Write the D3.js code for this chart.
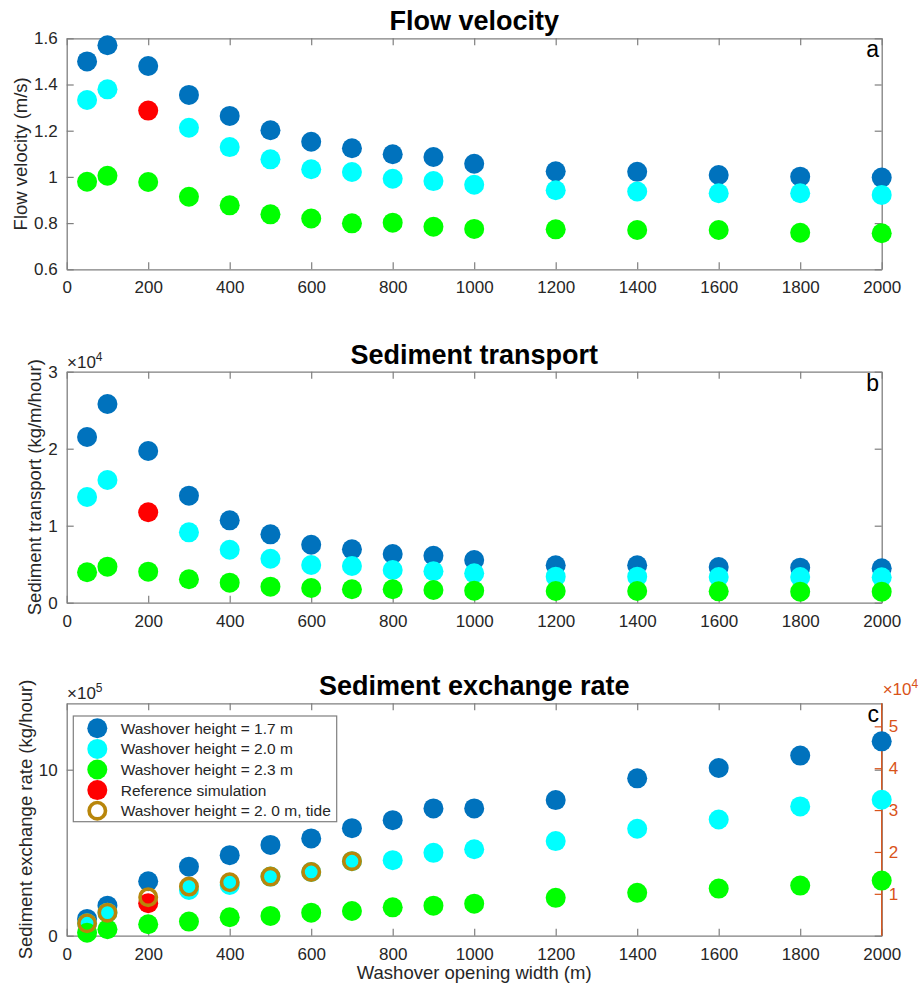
<!DOCTYPE html>
<html>
<head>
<meta charset="utf-8">
<script src="https://cdn.jsdelivr.net/npm/d3@7/dist/d3.min.js"></script>
<style>
  body { margin: 0; background: #fff; }
  svg { display: block; font-family: "Liberation Sans", Arial, Helvetica, sans-serif; }
</style>
</head>
<body>
<svg id="chart" width="923" height="992"></svg>
<script>
// Washover opening widths (m)
const widths = [50, 100, 200, 300, 400, 500, 600, 700, 800, 900, 1000, 1200, 1400, 1600, 1800, 2000];
const xTicks = [0, 200, 400, 600, 800, 1000, 1200, 1400, 1600, 1800, 2000];

// (a) Flow velocity (m/s)
const velH17 = [1.500, 1.570, 1.480, 1.355, 1.264, 1.202, 1.152, 1.124, 1.098, 1.086, 1.057, 1.024, 1.022, 1.008, 1.001, 0.997];
const velH20 = [1.333, 1.379, null, 1.213, 1.129, 1.076, 1.033, 1.021, 0.992, 0.982, 0.966, 0.942, 0.937, 0.929, 0.929, 0.922];
const velH23 = [0.979, 1.005, 0.978, 0.914, 0.877, 0.838, 0.820, 0.799, 0.802, 0.784, 0.775, 0.773, 0.770, 0.770, 0.758, 0.756];
const velRef = 1.287;
const velTicks = [0.6, 0.8, 1.0, 1.2, 1.4, 1.6];

// (b) Sediment transport (kg/m/hour)
const sedH17 = [21520, 25810, 19700, 13900, 10700, 8880, 7530, 6930, 6320, 6100, 5540, 4860, 4860, 4640, 4550, 4470];
const sedH20 = [13730, 15940, null, 9140, 6880, 5710, 4900, 4770, 4250, 4080, 3810, 3380, 3380, 3340, 3340, 3300];
const sedH23 = [3950, 4680, 4030, 3040, 2600, 2080, 1910, 1740, 1740, 1650, 1560, 1520, 1520, 1480, 1430, 1430];
const sedRef = 11740;
const sedTicks = [0, 10000, 20000, 30000];

// (c) Sediment exchange rate (kg/hour)
const excH17 = [101000, 181000, 328000, 416000, 485000, 547000, 586000, 648000, 696000, 767000, 767000, 817000, 948000, 1010000, 1085000, 1171000];
const excH20 = [75000, 139000, null, 276000, 306000, 356000, 384000, 449000, 455000, 499000, 521000, 570000, 644000, 700000, 779000, 819000];
const excH23 = [18000, 39000, 69000, 85000, 111000, 119000, 139000, 149000, 171000, 181000, 193000, 228000, 258000, 284000, 302000, 332000];
const excRef = 196000;
const tideWidths = [50, 100, 200, 300, 400, 500, 600, 700];
const excTide = [75000, 139000, 232000, 296000, 322000, 356000, 384000, 449000];
const excTicks = [0, 1000000];
const excRightTicks = [10000, 20000, 30000, 40000, 50000];

const legendLabels = [
  "Washover height = 1.7 m",
  "Washover height = 2.0 m",
  "Washover height = 2.3 m",
  "Reference simulation",
  "Washover height = 2. 0 m, tide"
];

const COL = { h17: "#0072BD", h20: "#00FFFF", h23: "#00FF00", ref: "#FF0000", tide: "#B8860B", right: "#D95319" };
const AXIS = "#7f7f7f";
const TXT = "#262626";
const R = 10;

const svg = d3.select("#chart");
svg.append("rect").attr("width", 923).attr("height", 992).attr("fill", "#fff");

const X0 = 66.7, X1 = 881.7;
const x = d3.scaleLinear().domain([0, 2000]).range([X0, X1]);

function styleAxis(g, color) {
  g.select(".domain").attr("stroke", color).attr("stroke-width", 1.3);
  g.selectAll(".tick line").attr("stroke", color).attr("stroke-width", 1.2);
  g.selectAll(".tick text").attr("fill", color === AXIS ? TXT : color).attr("font-size", 17);
}

function panel(opts) {
  const { top, bottom, y, yTicks, yFmt, title, letter, ylabel, ylabelX, exp } = opts;
  const g = svg.append("g");

  // box axes: bottom/left labelled, top/right mirrored ticks only
  const gb = g.append("g").attr("transform", `translate(0,${bottom})`)
    .call(d3.axisBottom(x).tickValues(xTicks).tickSizeInner(-7).tickSizeOuter(0).tickPadding(12).tickFormat(d3.format("d")));
  styleAxis(gb, AXIS);
  const gt = g.append("g").attr("transform", `translate(0,${top})`)
    .call(d3.axisTop(x).tickValues(xTicks).tickSizeInner(-7).tickSizeOuter(0).tickFormat(""));
  styleAxis(gt, AXIS);
  const gl = g.append("g").attr("transform", `translate(${X0},0)`)
    .call(d3.axisLeft(y).tickValues(yTicks).tickSizeInner(-7).tickSizeOuter(0).tickPadding(9).tickFormat(yFmt));
  styleAxis(gl, AXIS);
  if (!opts.noRightMirror) {
    const gr = g.append("g").attr("transform", `translate(${X1},0)`)
      .call(d3.axisRight(y).tickValues(yTicks).tickSizeInner(-7).tickSizeOuter(0).tickFormat(""));
    styleAxis(gr, AXIS);
  }

  g.append("text").attr("x", (X0 + X1) / 2).attr("y", top - 8)
    .attr("text-anchor", "middle").attr("font-size", 27).attr("font-weight", "bold").attr("fill", "#000")
    .text(title);
  g.append("text").attr("x", 879).attr("y", top + 19)
    .attr("text-anchor", "end").attr("font-size", 23).attr("fill", "#000").text(letter);
  g.append("text")
    .attr("transform", `translate(${ylabelX},${(top + bottom) / 2}) rotate(-90)`)
    .attr("text-anchor", "middle").attr("font-size", 18.5).attr("fill", TXT).text(ylabel);

  if (exp) {
    const t = g.append("text").attr("x", 67).attr("y", top - 4).attr("font-size", 17).attr("fill", TXT);
    t.append("tspan").text("\u00D710");
    t.append("tspan").attr("dy", -7).attr("font-size", 12).text(exp);
  }
  return g;
}

function dots(g, y, xs, ys, color) {
  g.append("g").selectAll("circle")
    .data(xs.map((w, i) => [w, ys[i]]).filter(d => d[1] !== null))
    .join("circle")
    .attr("cx", d => x(d[0])).attr("cy", d => y(d[1])).attr("r", R)
    .attr("fill", color);
}

function rings(g, y, xs, ys, color) {
  g.append("g").selectAll("circle")
    .data(xs.map((w, i) => [w, ys[i]]))
    .join("circle")
    .attr("cx", d => x(d[0])).attr("cy", d => y(d[1])).attr("r", R - 1.8)
    .attr("fill", "none").attr("stroke", color).attr("stroke-width", 3.6);
}

// ---- (a) Flow velocity
const yA = d3.scaleLinear().domain([0.6, 1.6]).range([269.3, 38.3]);
const gA = panel({
  top: 38.3, bottom: 269.3, y: yA, yTicks: velTicks,
  yFmt: d => String(+d.toFixed(1)),
  title: "Flow velocity", letter: "a", ylabel: "Flow velocity (m/s)", ylabelX: 26.5
});
dots(gA, yA, widths, velH17, COL.h17);
dots(gA, yA, widths, velH20, COL.h20);
dots(gA, yA, widths, velH23, COL.h23);
dots(gA, yA, [200], [velRef], COL.ref);

// ---- (b) Sediment transport
const yB = d3.scaleLinear().domain([0, 30000]).range([602.7, 371.7]);
const gB = panel({
  top: 371.7, bottom: 602.7, y: yB, yTicks: sedTicks,
  yFmt: d => String(d / 1e4),
  title: "Sediment transport", letter: "b", ylabel: "Sediment transport (kg/m/hour)", ylabelX: 41, exp: "4"
});
dots(gB, yB, widths, sedH17, COL.h17);
dots(gB, yB, widths, sedH20, COL.h20);
dots(gB, yB, widths, sedH23, COL.h23);
dots(gB, yB, [200], [sedRef], COL.ref);

// ---- (c) Sediment exchange rate, with a second (right) axis
const yC = d3.scaleLinear().domain([0, 1400000]).range([935.7, 703.3]);
const yC2 = d3.scaleLinear().domain([0, 55500]).range([935.7, 703.3]);
const gC = panel({
  top: 703.3, bottom: 935.7, y: yC, yTicks: excTicks,
  yFmt: d => String(d / 1e5),
  title: "Sediment exchange rate", letter: "c", ylabel: "Sediment exchange rate (kg/hour)", ylabelX: 31.5, exp: "5",
  noRightMirror: false
});
const gR = gC.append("g").attr("transform", `translate(${X1},0)`)
  .call(d3.axisRight(yC2).tickValues(excRightTicks).tickSizeInner(-7).tickSizeOuter(0).tickPadding(7).tickFormat(d => String(d / 1e4)));
styleAxis(gR, COL.right);
gR.select(".domain").attr("d", `M0,935.7V703.3`);
{
  const t = gC.append("text").attr("x", 882.7).attr("y", 695).attr("font-size", 17).attr("fill", COL.right);
  t.append("tspan").text("\u00D710");
  t.append("tspan").attr("dy", -7).attr("font-size", 12).text("4");
}
dots(gC, yC, widths, excH17, COL.h17);
dots(gC, yC, widths, excH20, COL.h20);
dots(gC, yC, widths, excH23, COL.h23);
dots(gC, yC, [200], [excRef], COL.ref);
rings(gC, yC, tideWidths, excTide, COL.tide);

svg.append("text").attr("x", (X0 + X1) / 2).attr("y", 979)
  .attr("text-anchor", "middle").attr("font-size", 18.5).attr("fill", TXT)
  .text("Washover opening width (m)");

// legend
const lg = svg.append("g").attr("transform", "translate(73.3,716)");
lg.append("rect").attr("width", 263.4).attr("height", 105.7)
  .attr("fill", "#fff").attr("stroke", AXIS).attr("stroke-width", 1.2);
const legColors = [COL.h17, COL.h20, COL.h23, COL.ref, COL.tide];
legendLabels.forEach((lab, i) => {
  const cy = 12.3 + i * 20.6;
  if (i < 4) {
    lg.append("circle").attr("cx", 24).attr("cy", cy).attr("r", R).attr("fill", legColors[i]);
  } else {
    lg.append("circle").attr("cx", 24).attr("cy", cy).attr("r", R - 1.8)
      .attr("fill", "none").attr("stroke", legColors[i]).attr("stroke-width", 3.6);
  }
  lg.append("text").attr("x", 47.4).attr("y", cy).attr("dy", "0.35em")
    .attr("font-size", 15.5).attr("fill", TXT).text(lab);
});
</script>
</body>
</html>
